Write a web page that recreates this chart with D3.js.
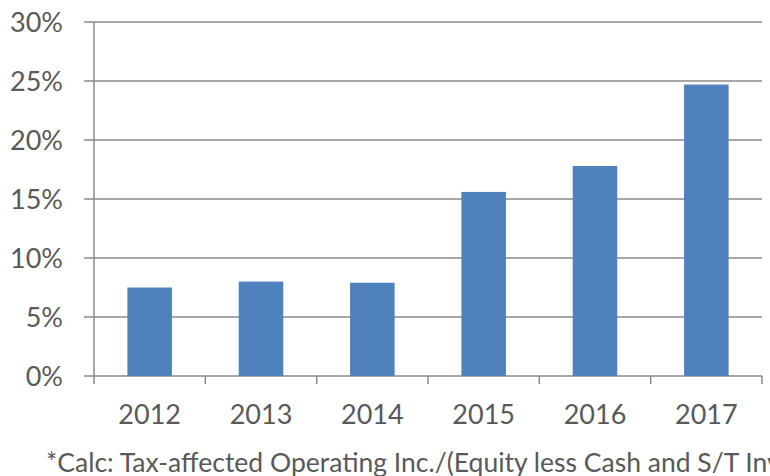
<!DOCTYPE html>
<html lang="en">
<head>
<script src="https://d3js.org/d3.v7.min.js"></script>
<style>
  body { margin: 0; background: #fff; overflow: hidden; }
  text { font-family: Lato, "Open Sans", sans-serif; fill: #595959; }
</style>
</head>
<body>
<script>
var years = ["2012", "2013", "2014", "2015", "2016", "2017"];
var values = [7.5, 8.0, 7.9, 15.6, 17.8, 24.7];
var yTicks = [0, 5, 10, 15, 20, 25, 30];
var footnote = "*Calc: Tax-affected Operating Inc./(Equity less Cash and S/T Investments)";

var width = 770, height = 476;
var plotLeft = 94, plotRight = 762, plotTop = 22, plotBottom = 376;

var svg = d3.select("body").append("svg")
  .attr("width", width)
  .attr("height", height);

var x = d3.scaleBand().domain(years).range([plotLeft, plotRight]).paddingInner(0.6).paddingOuter(0.3);
var xb = d3.scaleBand().domain(years).range([plotLeft, plotRight]);
var y = d3.scaleLinear().domain([0, 30]).range([plotBottom, plotTop]);

// gridlines
svg.selectAll("line.grid")
  .data(yTicks)
  .enter().append("line")
  .attr("class", "grid")
  .attr("x1", plotLeft - 10)
  .attr("x2", plotRight)
  .attr("y1", function(d) { return y(d); })
  .attr("y2", function(d) { return y(d); })
  .attr("stroke", "#8a8a8a")
  .attr("stroke-width", 1.5);

// y labels
svg.selectAll("text.ylab")
  .data(yTicks)
  .enter().append("text")
  .attr("class", "ylab")
  .attr("x", 63)
  .attr("y", function(d) { return y(d); })
  .attr("dy", "0.36em")
  .attr("text-anchor", "end")
  .attr("font-size", 27)
  .text(function(d) { return d + "%"; });

// bars
svg.selectAll("rect")
  .data(values)
  .enter().append("rect")
  .attr("x", function(d, i) { return x(years[i]); })
  .attr("width", x.bandwidth())
  .attr("y", function(d) { return y(d); })
  .attr("height", function(d) { return y(0) - y(d); })
  .attr("fill", "#4f81bd");

// y axis line
svg.append("line")
  .attr("x1", plotLeft).attr("x2", plotLeft)
  .attr("y1", plotTop).attr("y2", plotBottom + 8)
  .attr("stroke", "#8a8a8a").attr("stroke-width", 1.5);

// x ticks
var xt = years.map(function(d) { return xb(d) + xb.bandwidth(); });
svg.selectAll("line.xtick")
  .data(xt)
  .enter().append("line")
  .attr("class", "xtick")
  .attr("x1", function(d) { return d; })
  .attr("x2", function(d) { return d; })
  .attr("y1", plotBottom)
  .attr("y2", plotBottom + 8)
  .attr("stroke", "#8a8a8a").attr("stroke-width", 1.5);

// x labels
svg.selectAll("text.xlab")
  .data(years)
  .enter().append("text")
  .attr("class", "xlab")
  .attr("x", function(d) { return xb(d) + xb.bandwidth() / 2; })
  .attr("y", 424)
  .attr("text-anchor", "middle")
  .attr("font-size", 27)
  .text(function(d) { return d; });

svg.append("text")
  .attr("x", 46)
  .attr("y", 472)
  .attr("font-size", 26.5)
  .text(footnote);
</script>
</body>
</html>
